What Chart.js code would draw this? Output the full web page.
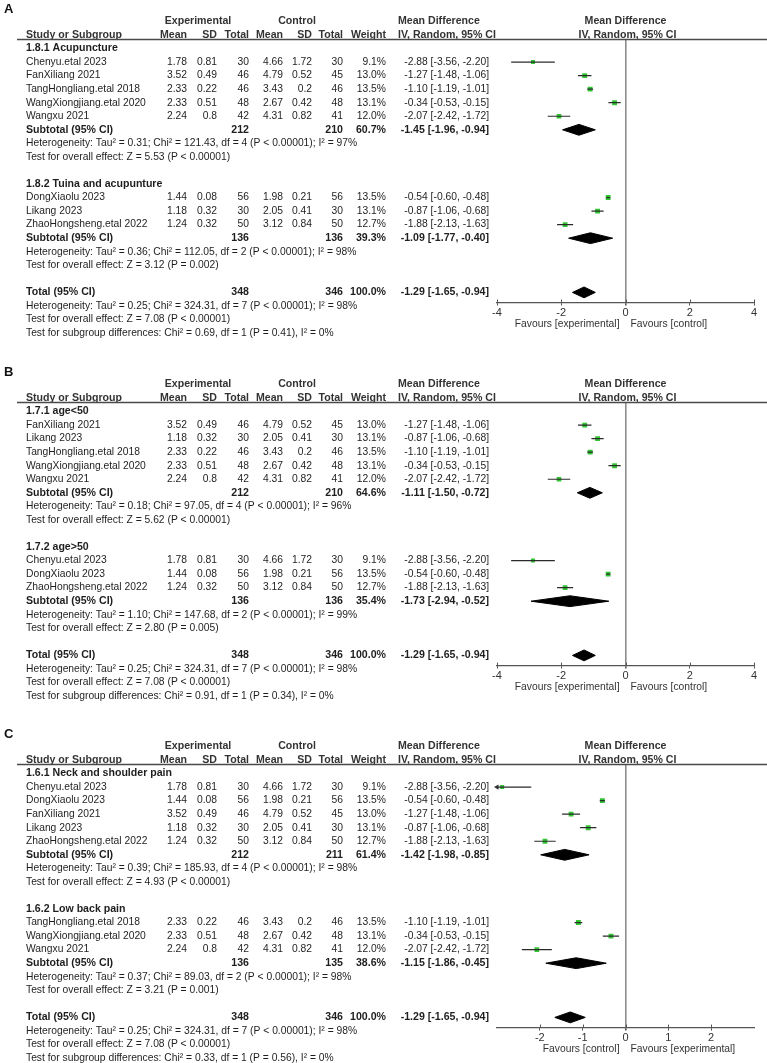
<!DOCTYPE html>
<html>
<head>
<meta charset="utf-8">
<script src="https://cdn.jsdelivr.net/npm/chart.js@4.4.0/dist/chart.umd.min.js"></script>
<style>
  body { margin: 0; background: #fff; width: 767px; height: 1063px; overflow: hidden; position: relative; }
  .panel { position: absolute; left: 0; width: 767px; height: 363px; }
  canvas { display: block; }
</style>
</head>
<body>
<div class="panel" style="top:0px"><canvas id="chartA" width="767" height="363"></canvas></div>
<div class="panel" style="top:363px"><canvas id="chartB" width="767" height="363"></canvas></div>
<div class="panel" style="top:725px"><canvas id="chartC" width="767" height="363"></canvas></div>
<script>
const FONT = "'Liberation Sans', Arial, sans-serif";

// the eight trials (same trials are regrouped in each panel)
const studies = ["Chenyu.etal 2023", "FanXiliang 2021", "TangHongliang.etal 2018", "WangXiongjiang.etal 2020",
                 "Wangxu 2021", "DongXiaolu 2023", "Likang 2023", "ZhaoHongsheng.etal 2022"];
const expMean = [1.78, 3.52, 2.33, 2.33, 2.24, 1.44, 1.18, 1.24];
const expSD = [0.81, 0.49, 0.22, 0.51, 0.8, 0.08, 0.32, 0.32];
const expTotal = [30, 46, 46, 48, 42, 56, 30, 50];
const ctlMean = [4.66, 4.79, 3.43, 2.67, 4.31, 1.98, 2.05, 3.12];
const ctlSD = [1.72, 0.52, 0.2, 0.42, 0.82, 0.21, 0.41, 0.84];
const ctlTotal = [30, 45, 46, 48, 41, 56, 30, 50];
const weight = [9.1, 13.0, 13.5, 13.1, 12.0, 13.5, 13.1, 12.7];
const md = [-2.88, -1.27, -1.10, -0.34, -2.07, -0.54, -0.87, -1.88];
const ciLow = [-3.56, -1.48, -1.19, -0.53, -2.42, -0.60, -1.06, -2.13];
const ciHigh = [-2.20, -1.06, -1.01, -0.15, -1.72, -0.48, -0.68, -1.63];

// panels
const panelIds = ["chartA", "chartB", "chartC"];
const panelLabels = ["A", "B", "C"];
const subgroupNames = [
  ["1.8.1 Acupuncture", "1.8.2 Tuina and acupunture"],
  ["1.7.1 age<50", "1.7.2 age>50"],
  ["1.6.1 Neck and shoulder pain", "1.6.2 Low back pain"]
];
const subgroupStudies = [
  [[0, 1, 2, 3, 4], [5, 6, 7]],
  [[1, 6, 2, 3, 4], [0, 5, 7]],
  [[0, 5, 1, 6, 7], [2, 3, 4]]
];
const subExpTotal = [[212, 136], [212, 136], [212, 136]];
const subCtlTotal = [[210, 136], [210, 136], [211, 135]];
const subWeight = [[60.7, 39.3], [64.6, 35.4], [61.4, 38.6]];
const subMd = [[-1.45, -1.09], [-1.11, -1.73], [-1.42, -1.15]];
const subLow = [[-1.96, -1.77], [-1.50, -2.94], [-1.98, -1.86]];
const subHigh = [[-0.94, -0.40], [-0.72, -0.52], [-0.85, -0.45]];
const subHet = [
  ["Tau² = 0.31; Chi² = 121.43, df = 4 (P < 0.00001); I² = 97%", "Tau² = 0.36; Chi² = 112.05, df = 2 (P < 0.00001); I² = 98%"],
  ["Tau² = 0.18; Chi² = 97.05, df = 4 (P < 0.00001); I² = 96%", "Tau² = 1.10; Chi² = 147.68, df = 2 (P < 0.00001); I² = 99%"],
  ["Tau² = 0.39; Chi² = 185.93, df = 4 (P < 0.00001); I² = 98%", "Tau² = 0.37; Chi² = 89.03, df = 2 (P < 0.00001); I² = 98%"]
];
const subTest = [
  ["Z = 5.53 (P < 0.00001)", "Z = 3.12 (P = 0.002)"],
  ["Z = 5.62 (P < 0.00001)", "Z = 2.80 (P = 0.005)"],
  ["Z = 4.93 (P < 0.00001)", "Z = 3.21 (P = 0.001)"]
];
const subgroupDiff = [
  "Chi² = 0.69, df = 1 (P = 0.41), I² = 0%",
  "Chi² = 0.91, df = 1 (P = 0.34), I² = 0%",
  "Chi² = 0.33, df = 1 (P = 0.56), I² = 0%"
];

// overall
const totalExp = 348, totalCtl = 346, totalWeight = 100.0;
const totalMd = -1.29, totalLow = -1.65, totalHigh = -0.94;
const totalHet = "Tau² = 0.25; Chi² = 324.31, df = 7 (P < 0.00001); I² = 98%";
const totalTest = "Z = 7.08 (P < 0.00001)";

// axes
const xMin = [-4, -4, -3];
const xMax = [4, 4, 3];
const xTicks = [[-4, -2, 0, 2, 4], [-4, -2, 0, 2, 4], [-2, -1, 0, 1, 2]];
const favours = [
  ["Favours [experimental]", "Favours [control]"],
  ["Favours [experimental]", "Favours [control]"],
  ["Favours [control]", "Favours [experimental]"]
];

// layout (pixels inside one panel)
const ROW_H = 13.55;
const ROW0 = 48.5;
const HEAD_ROW = -0.7, AXIS_ROW = 18.75;
const PANEL_H = 363;
const COL = { name: 26, expMean: 187, expSD: 217, expN: 249, ctlMean: 283, ctlSD: 312, ctlN: 343,
              weight: 386, mdLeft: 398, mdRight: 489 };
const FS = 10.3;
const TEXT = "#1e1e1e";

const f2 = v => v.toFixed(2);
const ciText = (m, l, h) => f2(m) + " [" + f2(l) + ", " + f2(h) + "]";

function buildPanel(p) {
  const rows = [], marks = [], diamonds = [];
  let r = 0;
  subgroupStudies[p].forEach((list, g) => {
    rows.push({ row: r++, type: "group", text: subgroupNames[p][g] });
    list.forEach(i => {
      rows.push({ row: r, type: "study", i });
      marks.push({ row: r, i });
      r++;
    });
    rows.push({ row: r, type: "sum", label: "Subtotal (95% CI)", e: subExpTotal[p][g], c: subCtlTotal[p][g],
                w: subWeight[p][g], m: subMd[p][g], l: subLow[p][g], h: subHigh[p][g] });
    diamonds.push({ row: r, m: subMd[p][g], l: subLow[p][g], h: subHigh[p][g] });
    r++;
    rows.push({ row: r++, type: "note", text: "Heterogeneity: " + subHet[p][g] });
    rows.push({ row: r++, type: "note", text: "Test for overall effect: " + subTest[p][g] });
    r++;
  });
  rows.push({ row: r, type: "sum", label: "Total (95% CI)", e: totalExp, c: totalCtl, w: totalWeight,
              m: totalMd, l: totalLow, h: totalHigh });
  diamonds.push({ row: r, m: totalMd, l: totalLow, h: totalHigh });
  r++;
  rows.push({ row: r++, type: "note", text: "Heterogeneity: " + totalHet });
  rows.push({ row: r++, type: "note", text: "Test for overall effect: " + totalTest });
  rows.push({ row: r++, type: "note", text: "Test for subgroup differences: " + subgroupDiff[p] });
  return { rows, marks, diamonds };
}

function tablePlugin(p, rows) {
  return {
    id: "forestTable" + p,
    afterDraw(chart) {
      const ctx = chart.ctx;
      const ys = chart.scales.y, xs = chart.scales.x, area = chart.chartArea;
      const yOf = row => ys.getPixelForValue(row);
      const txt = (s, x, y, align, bold, color) => {
        ctx.font = (bold ? "bold " : "") + (bold ? FS + 0.3 : FS) + "px " + FONT;
        ctx.textAlign = align;
        ctx.fillStyle = color || TEXT;
        ctx.fillText(s, x, y);
      };
      ctx.save();
      ctx.textBaseline = "middle";

      // panel letter
      ctx.font = "bold 13px " + FONT;
      ctx.fillStyle = "#111";
      ctx.textAlign = "left";
      ctx.fillText(panelLabels[p], 4, 9);

      // header
      const h1 = yOf(-2), h2 = yOf(-1);
      const x0 = xs.getPixelForValue(0);
      txt("Experimental", 198, h1, "center", true, "#333");
      txt("Control", 297, h1, "center", true, "#333");
      txt("Mean Difference", COL.mdLeft, h1, "left", true, "#333");
      txt("Mean Difference", x0, h1, "center", true, "#333");
      txt("Study or Subgroup", COL.name, h2, "left", true, "#333");
      txt("Mean", COL.expMean, h2, "right", true, "#333");
      txt("SD", COL.expSD, h2, "right", true, "#333");
      txt("Total", COL.expN, h2, "right", true, "#333");
      txt("Mean", COL.ctlMean, h2, "right", true, "#333");
      txt("SD", COL.ctlSD, h2, "right", true, "#333");
      txt("Total", COL.ctlN, h2, "right", true, "#333");
      txt("Weight", COL.weight, h2, "right", true, "#333");
      txt("IV, Random, 95% CI", COL.mdLeft, h2, "left", true, "#333");
      txt("IV, Random, 95% CI", x0 + 2, h2, "center", true, "#333");

      // header rule
      ctx.strokeStyle = "#4a4a4a";
      ctx.lineWidth = 1.3;
      ctx.beginPath();
      ctx.moveTo(17, Math.round(area.top) + 0.5);
      ctx.lineTo(767, Math.round(area.top) + 0.5);
      ctx.stroke();

      // tick marks also reach a little above the axis line
      ctx.strokeStyle = "#555";
      ctx.lineWidth = 1;
      xs.ticks.forEach(t => {
        const tx = Math.round(xs.getPixelForValue(t.value)) + 0.5;
        ctx.beginPath();
        ctx.moveTo(tx, area.bottom - 3);
        ctx.lineTo(tx, area.bottom);
        ctx.stroke();
      });

      rows.forEach(r => {
        const y = yOf(r.row);
        if (r.type === "group") {
          txt(r.text, COL.name, y, "left", true);
        } else if (r.type === "note") {
          txt(r.text, COL.name, y, "left", false);
        } else if (r.type === "study") {
          const i = r.i;
          txt(studies[i], COL.name, y, "left");
          txt(String(expMean[i]), COL.expMean, y, "right");
          txt(String(expSD[i]), COL.expSD, y, "right");
          txt(String(expTotal[i]), COL.expN, y, "right");
          txt(String(ctlMean[i]), COL.ctlMean, y, "right");
          txt(String(ctlSD[i]), COL.ctlSD, y, "right");
          txt(String(ctlTotal[i]), COL.ctlN, y, "right");
          txt(weight[i].toFixed(1) + "%", COL.weight, y, "right");
          txt(ciText(md[i], ciLow[i], ciHigh[i]), COL.mdRight, y, "right");
        } else if (r.type === "sum") {
          txt(r.label, COL.name, y, "left", true);
          txt(String(r.e), COL.expN, y, "right", true);
          txt(String(r.c), COL.ctlN, y, "right", true);
          txt(r.w.toFixed(1) + "%", COL.weight, y, "right", true);
          txt(ciText(r.m, r.l, r.h), COL.mdRight, y, "right", true);
        }
      });

      // favours labels under the axis
      const fy = area.bottom + 21.5;
      txt(favours[p][0], x0 - 6, fy, "right", false, "#333");
      txt(favours[p][1], x0 + 5, fy, "left", false, "#333");
      ctx.restore();
    }
  };
}

function makePanel(p) {
  const { rows, marks, diamonds } = buildPanel(p);
  const datasets = [];

  // confidence interval whiskers
  marks.forEach(s => {
    datasets.push({
      type: "scatter", showLine: true,
      data: [{ x: Math.max(ciLow[s.i], xMin[p]), y: s.row }, { x: Math.min(ciHigh[s.i], xMax[p]), y: s.row }],
      borderColor: "#2a2a2a", borderWidth: 1.2, pointRadius: 0
    });
  });

  // arrows where a CI runs off the axis
  const arrows = marks.filter(s => ciLow[s.i] < xMin[p]).map(s => ({ x: xMin[p], y: s.row }));
  if (arrows.length) {
    datasets.push({
      type: "scatter", data: arrows, pointStyle: "triangle", rotation: -90,
      pointRadius: 3, backgroundColor: "#333", borderWidth: 0, clip: false
    });
  }

  // study squares, size from weight
  datasets.push({
    type: "scatter",
    data: marks.map(s => ({ x: md[s.i], y: s.row })),
    pointStyle: "rect",
    pointRadius: marks.map(s => Math.sqrt(weight[s.i]) * 0.95),
    backgroundColor: "#33c433", borderWidth: 0
  });

  // pooled diamonds
  diamonds.forEach(d => {
    datasets.push({
      type: "scatter", showLine: true, fill: "shape",
      data: [{ x: d.l, y: d.row }, { x: d.m, y: d.row - 0.4 }, { x: d.h, y: d.row },
             { x: d.m, y: d.row + 0.4 }, { x: d.l, y: d.row }],
      borderColor: "#000", backgroundColor: "#000", borderWidth: 1, pointRadius: 0
    });
  });

  const top = ROW0 + HEAD_ROW * ROW_H;
  const bottom = ROW0 + AXIS_ROW * ROW_H;
  const axisH = 30;

  new Chart(document.getElementById(panelIds[p]), {
    type: "scatter",
    data: { datasets },
    options: {
      responsive: false,
      animation: false,
      devicePixelRatio: 1,
      events: [],
      layout: { padding: { left: 497, right: 13, top: top, bottom: PANEL_H - bottom - axisH } },
      plugins: { legend: { display: false }, tooltip: { enabled: false } },
      scales: {
        x: {
          type: "linear", min: xMin[p], max: xMax[p],
          afterBuildTicks: axis => { axis.ticks = xTicks[p].map(v => ({ value: v })); },
          afterFit: axis => { axis.height = axisH; },
          border: { display: true, color: "#555", width: 1.2 },
          grid: {
            drawOnChartArea: true,
            color: c => (c.tick && c.tick.value === 0) ? "#8c8c8c" : "rgba(0,0,0,0)",
            lineWidth: c => (c.tick && c.tick.value === 0) ? 1.6 : 1,
            tickColor: "#555", tickLength: 3
          },
          ticks: { color: "#333", font: { family: FONT, size: 11 }, padding: 1, maxRotation: 0, autoSkip: false }
        },
        y: { type: "linear", reverse: true, min: HEAD_ROW, max: AXIS_ROW, display: false }
      }
    },
    plugins: [tablePlugin(p, rows)]
  });
}

[0, 1, 2].forEach(makePanel);
</script>
</body>
</html>
